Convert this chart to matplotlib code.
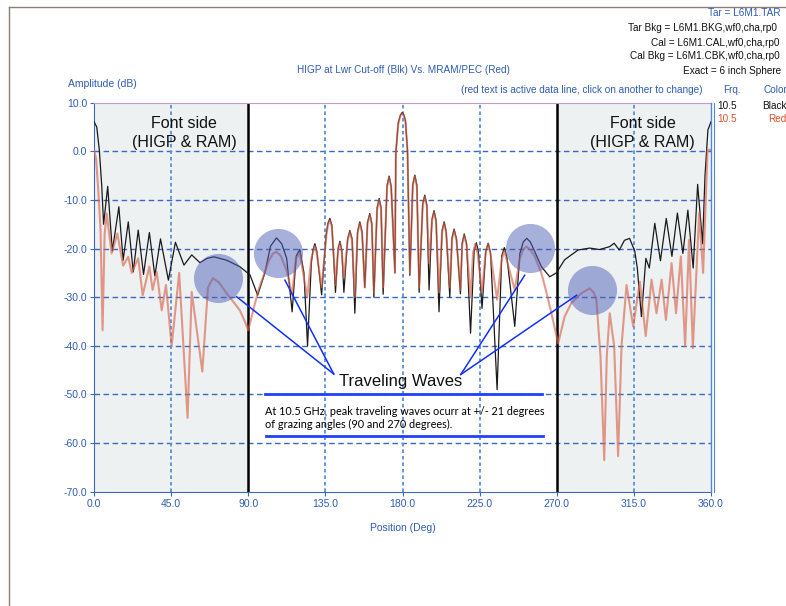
#! /usr/bin/env python3
"""
RCS pattern: HIGP at lower cut-off (black) vs MRAM/PEC (red), 10.5 GHz
"""

import matplotlib
matplotlib.use('Agg')
import matplotlib.pyplot as plt

# black trace (HIGP at Lwr Cut-off), position in deg / amplitude in dB
black_deg = [
    # 0 - 90
    0, 1.6, 3.1, 4.5, 5.6, 8.0, 10.7, 14.5, 17.0, 20.0,
    22.9, 25.8, 28.9, 32.3, 35.5, 38.8, 43.4, 47.5, 52.5, 57.0,
    61.8, 66.0, 70.0, 77.4, 85.0,
    # 90 - 175
    91.0, 95.5, 99.7, 103.0, 106.5, 109.5, 112.4, 115.6, 118.0, 120.1,
    122.5, 124.6, 126.8, 127.8, 128.9, 130.0, 132.8, 135.5, 136.5, 137.6,
    138.8, 140.9, 142.4, 143.5, 144.6, 145.8, 148.0, 149.3, 150.6, 152.2,
    153.8, 155.1, 156.4, 158.0, 159.6, 160.9, 162.1, 163.3, 165.2, 166.4,
    167.5, 168.7, 171.0, 172.2, 173.4, 175.6,
    # main lobe
    176.1, 177.5, 178.7, 179.8, 180.8, 181.7, 182.9, 184.3,
    # 185 - 270
    186.0, 187.2, 188.4, 189.7, 191.8, 193.0, 194.2, 195.5, 197.2, 198.4,
    199.6, 201.3, 203.1, 204.3, 205.5, 207.6, 208.9, 210.1, 211.5, 213.8,
    214.8, 216.0, 217.4, 219.7, 221.8, 223.1, 224.3, 226.4, 228.6, 230.0,
    231.4, 235.2, 237.9, 239.4, 241.0, 245.5, 248.5, 250.5, 252.5, 254.5,
    257.0, 261.0, 265.9, 269.8,
    # 270 - 360
    274.6, 282.4, 289.2, 295.0, 300.9, 303.5, 306.5, 309.5, 312.5, 315.5,
    317.0, 319.4, 322.0, 324.0, 327.2, 330.5, 333.9, 337.2, 340.4, 343.6,
    346.5, 349.6, 352.2, 355.1, 356.5, 358.2, 360.0]
black_db = [
    6.1, 5.0, 0.3, -7.0, -15.0, -7.2, -20.5, -11.4, -22.4, -14.5,
    -24.8, -16.2, -25.3, -16.7, -25.6, -18.0, -26.5, -18.7, -23.4, -21.3,
    -22.9, -22.0, -21.7, -22.4, -23.7,
    -25.4, -29.6, -25.0, -19.5, -17.8, -19.0, -22.0, -33.0, -21.5, -20.2,
    -25.0, -40.0, -23.0, -20.2, -19.0, -20.5, -29.5, -17.0, -14.8, -13.8,
    -15.2, -29.0, -20.0, -18.5, -20.5, -29.0, -18.0, -16.3, -18.0, -33.3,
    -16.5, -14.5, -16.5, -28.0, -14.6, -12.8, -14.8, -30.0, -11.6, -9.7,
    -11.6, -29.4, -7.0, -5.1, -7.2, -25.0,
    -0.4, 5.8, 7.4, 8.0, 7.5, 6.4, 0.3, -25.5,
    -6.8, -4.9, -7.0, -29.0, -10.8, -9.0, -11.0, -28.5, -14.0, -12.2,
    -14.2, -33.0, -16.3, -14.5, -16.5, -30.0, -17.8, -16.0, -18.0, -29.3,
    -19.0, -17.0, -19.0, -37.4, -20.5, -18.8, -20.7, -32.3, -20.6, -18.9,
    -21.0, -49.0, -21.5, -19.8, -22.0, -36.0, -21.0, -18.6, -17.9, -18.6,
    -20.5, -23.7, -25.8, -25.0,
    -22.3, -20.3, -19.9, -20.2, -19.6, -18.9, -20.3, -18.3, -17.9, -20.5,
    -24.0, -34.0, -22.0, -24.0, -14.8, -22.5, -13.8, -21.6, -12.7, -21.0,
    -12.1, -24.0, -6.8, -19.0, -5.0, 4.4, 6.1]

# red trace (MRAM/PEC)
red_deg = [
    # 0 - 90
    0, 1.2, 2.5, 3.8, 5.0, 6.2, 7.4, 10.3, 13.6, 17.0,
    20.0, 22.0, 25.8, 28.4, 32.3, 34.2, 36.6, 39.5, 42.0, 45.3,
    49.7, 54.6, 57.0, 63.2, 66.5, 69.4, 73.0, 77.4, 81.0, 85.1,
    88.0,
    # 90 - 175
    90.0, 92.0, 93.9, 96.0, 98.7, 102.0, 104.5, 106.5, 109.0, 112.3,
    115.6, 117.8, 120.1, 124.4, 126.8, 127.8, 128.9, 130.0, 132.8, 135.5,
    136.5, 137.6, 138.8, 141.0, 142.4, 143.6, 144.6, 145.8, 148.0, 149.3,
    150.6, 152.2, 153.8, 155.1, 156.4, 158.0, 159.6, 160.9, 162.1, 163.3,
    165.2, 166.4, 167.5, 168.7, 171.0, 172.2, 173.4, 175.6,
    # main lobe
    176.1, 177.5, 178.7, 179.8, 180.8, 181.7, 182.9, 184.3,
    # 185 - 270
    186.0, 187.2, 188.4, 189.7, 191.8, 193.0, 194.2, 195.5, 197.2, 198.4,
    199.6, 201.3, 203.1, 204.3, 205.5, 207.6, 208.9, 210.1, 211.5, 213.8,
    214.8, 216.0, 217.4, 219.7, 221.2, 222.5, 223.8, 226.4, 228.5, 229.9,
    231.3, 235.2, 237.9, 239.4, 240.9, 245.5, 248.5, 250.5, 252.3, 254.5,
    257.0, 261.0, 264.0, 266.9,
    # 270 - 360
    270.8, 274.6, 278.5, 284.3, 289.2, 291.5, 293.1, 295.5, 297.7, 299.2,
    300.9, 303.5, 305.8, 307.8, 310.7, 314.6, 318.5, 321.9, 325.3, 328.2,
    331.2, 333.7, 337.0, 339.6, 342.4, 344.9, 347.2, 349.4, 353.1, 355.4,
    358.0, 360.0]
red_db = [
    0.3, -1.5, -8.0, -16.0, -36.8, -17.0, -12.8, -21.0, -16.9, -23.5,
    -21.7, -25.0, -22.0, -29.6, -23.7, -28.5, -24.8, -32.7, -27.5, -40.0,
    -25.0, -54.8, -28.9, -45.3, -28.0, -26.1, -27.0, -29.2, -30.8, -32.7,
    -35.0,
    -36.8, -34.0, -31.3, -28.5, -25.8, -22.5, -21.0, -20.7, -21.5, -24.4,
    -29.5, -22.0, -21.0, -30.0, -22.0, -20.7, -19.5, -21.0, -28.0, -17.5,
    -15.2, -14.2, -15.6, -27.5, -20.3, -18.8, -20.8, -26.0, -18.3, -16.6,
    -18.3, -30.0, -16.8, -14.8, -16.8, -28.0, -14.9, -13.1, -15.1, -29.0,
    -11.9, -10.0, -11.9, -28.0, -7.3, -5.4, -7.5, -25.0,
    -0.6, 5.6, 7.2, 7.8, 7.3, 6.2, 0.1, -25.0,
    -7.1, -5.2, -7.3, -28.0, -11.1, -9.3, -11.3, -23.0, -14.3, -12.5,
    -14.5, -29.0, -16.6, -14.8, -16.8, -28.0, -18.1, -16.3, -18.3, -28.5,
    -19.3, -17.3, -19.3, -30.0, -20.8, -19.0, -21.0, -29.0, -20.8, -19.0,
    -21.0, -30.5, -22.2, -20.5, -22.5, -28.5, -22.0, -20.1, -19.6, -20.2,
    -21.5, -25.0, -29.0, -33.3,
    -39.5, -34.0, -31.2, -29.2, -28.2, -29.0, -30.5, -42.0, -63.5, -42.0,
    -33.3, -40.0, -62.7, -40.0, -27.5, -36.0, -26.8, -38.0, -26.4, -33.3,
    -26.4, -34.7, -23.0, -33.3, -21.6, -40.1, -18.2, -40.5, -12.7, -25.0,
    0.3, 0.3]

# traveling-wave lobes that get highlighted
lobe_deg = [72.5, 107.1, 254.2, 290.8]
lobe_db = [-26.1, -20.9, -19.8, -28.6]

# pointer lines: from each highlighted lobe to the label
pointer_from = [(83.2, -29.9), (111.4, -26.5), (251.3, -25.5), (281.6, -29.6)]
pointer_to = [(139.9, -45.8), (139.9, -45.8), (214.0, -45.9), (214.0, -45.9)]

x_ticks = [0, 45, 90, 135, 180, 225, 270, 315, 360]
y_ticks = [10, 0, -10, -20, -30, -40, -50, -60, -70]
front_sides = [(0, 90), (270, 360)]

BLUE_TXT = '#2f5bb3'
W, H = 786, 606


def fy(py):
    return 1 - py / H


def fx(px):
    return px / W


def main():
    plt.rcParams['font.family'] = ['Liberation Sans', 'DejaVu Sans']
    fig = plt.figure(figsize=(W / 100, H / 100), dpi=100)
    ax = fig.add_axes([fx(94), fy(491.7), (711 - 94) / W, (491.7 - 102.7) / H])
    ax.set_xlim(0, 360)
    ax.set_ylim(-70, 10)

    # shaded front-side sectors and black sector boundaries
    for a, b in front_sides:
        ax.axvspan(a, b, color='#eef1f2', zorder=0, lw=0)
    for a in (90, 270):
        ax.axvline(a, color='black', lw=1.8, zorder=2)

    # grid
    for v in y_ticks[1:-1]:
        ax.axhline(v, color='#3a6abf', lw=1.0, ls=(0, (4, 2.5)), zorder=1)
    for v in (45, 135, 180, 225, 315):
        ax.axvline(v, color='#5b8fd6', lw=1.3, ls=(0, (2, 1.6)), zorder=1)

    ax.plot(black_deg, black_db, color='#1a1a1a', lw=0.9, zorder=3)
    ax.plot(red_deg, red_db, color='#d8664c', lw=1.5, alpha=0.65, zorder=4)

    # highlighted lobes and pointers
    ax.scatter(lobe_deg, lobe_db, s=1250, color='#5060b8', alpha=0.5,
               lw=0, zorder=5)
    for (x0, y0), (x1, y1) in zip(pointer_from, pointer_to):
        ax.plot([x0, x1], [y0, y1], color='#1030ff', lw=1.1, zorder=6)

    ax.text(178.9, -47.4, 'Traveling Waves', ha='center', va='center',
            fontsize=12, color='#111111', zorder=7)
    ax.plot([99.7, 261.2], [-49.9, -49.9], color='#2040ff', lw=2, zorder=6)
    ax.plot([100.5, 261.8], [-58.6, -58.6], color='#2040ff', lw=2, zorder=6)
    ax.text(99.7, -54.8,
            'At 10.5 GHz, peak traveling waves ocurr at +/- 21 degrees\n'
            'of grazing angles (90 and 270 degrees).',
            ha='left', va='center', fontsize=7.8, family='Lato',
            linespacing=1.25, color='black', zorder=7)

    for cx in (52.5, 320.0):
        ax.text(cx, 3.8, 'Font side\n(HIGP & RAM)', ha='center', va='center',
                fontsize=11.5, linespacing=1.3, color='#111111', zorder=7)

    # axes frame
    for side in ('left', 'bottom'):
        ax.spines[side].set_color('#3a6abf')
    ax.spines['top'].set_color('#c79ac9')
    ax.spines['right'].set_color('#4f86d6')
    ax.spines['right'].set_position(('outward', 2.5))
    ax.axvline(360, color='#4f86d6', lw=1.0, clip_on=False, zorder=6)

    ax.set_xticks(x_ticks)
    ax.set_xticklabels([f'{v:.1f}' for v in x_ticks])
    ax.set_yticks(y_ticks)
    ax.set_yticklabels([f'{v:.1f}' for v in y_ticks])
    ax.tick_params(axis='both', colors='#3a6abf', labelcolor=BLUE_TXT,
                   labelsize=7.5, length=3, width=0.8, pad=2)
    ax.set_xlabel('Position (Deg)', color=BLUE_TXT, fontsize=7.5, labelpad=10)

    # header texts
    small = 7.2
    fig.text(fx(68), fy(84), 'Amplitude (dB)', color=BLUE_TXT, fontsize=7.5,
             va='center')
    fig.text(fx(403), fy(70), 'HIGP at Lwr Cut-off (Blk) Vs. MRAM/PEC (Red)',
             color=BLUE_TXT, fontsize=small, ha='center', va='center')
    fig.text(fx(461), fy(90),
             '(red text is active data line, click on another to change)',
             color=BLUE_TXT, fontsize=small, va='center')
    fig.text(fx(723), fy(90), 'Frq.', color=BLUE_TXT, fontsize=small, va='center')
    fig.text(fx(763), fy(90), 'Color', color=BLUE_TXT, fontsize=small, va='center')
    fig.text(fx(717), fy(106), '10.5', color='#111111', fontsize=small, va='center')
    fig.text(fx(762), fy(106), 'Black', color='#111111', fontsize=small, va='center')
    fig.text(fx(717), fy(119), '10.5', color='#d9502a', fontsize=small, va='center')
    fig.text(fx(768), fy(119), 'Red', color='#d9502a', fontsize=small, va='center')

    fig.text(fx(708), fy(13), 'Tar = L6M1.TAR', color=BLUE_TXT, fontsize=small,
             va='center')
    fig.text(fx(628), fy(28), 'Tar Bkg = L6M1.BKG,wf0,cha,rp0', color='#111111',
             fontsize=small, va='center')
    fig.text(fx(651), fy(43), 'Cal = L6M1.CAL,wf0,cha,rp0', color='#111111',
             fontsize=small, va='center')
    fig.text(fx(630), fy(56), 'Cal Bkg = L6M1.CBK,wf0,cha,rp0', color='#111111',
             fontsize=small, va='center')
    fig.text(fx(683), fy(71), 'Exact = 6 inch Sphere', color='#111111',
             fontsize=small, va='center')

    # page frame
    fig.add_artist(plt.Line2D([fx(9), 1], [fy(7), fy(7)], color='#8c7c72', lw=1))
    fig.add_artist(plt.Line2D([fx(9), fx(9)], [0, fy(7)], color='#8c7c72', lw=1))

    fig.savefig('out.png', dpi=100)


if __name__ == '__main__':
    main()
